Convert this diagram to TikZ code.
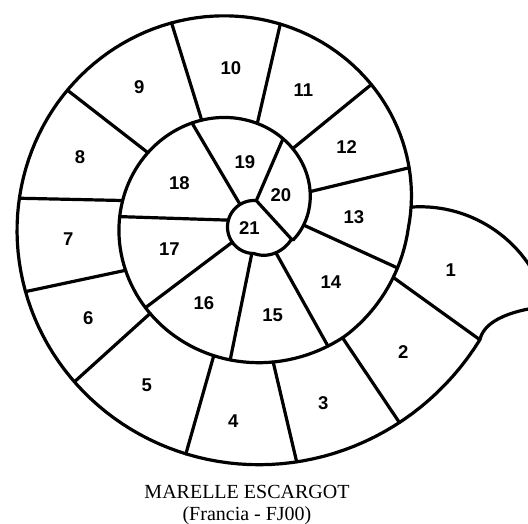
\documentclass[tikz,border=0pt]{standalone}
\usepackage{fontspec}
\setmainfont{Liberation Serif}
\setsansfont{Liberation Sans}
\usetikzlibrary{calc}
\begin{document}
\begin{tikzpicture}[x=1pt, y=1pt, line join=round, line cap=round]
	\tikzset{declare function={sr(\x)=278.5+0.304*\x+7*min(1,max(0,(-365-\x)/45)); lr(\x)=26.5+0.18*max(0,\x+90);},
		wall/.style={line width=3.2pt},
		cellnum/.style={font=\fontsize{18.5}{18.5}\sffamily\bfseries, inner sep=0pt},
		caption/.style={font=\fontsize{20}{22.5}\selectfont, align=center, inner sep=0pt}}
	\useasboundingbox (-241.5,-311) rectangle (286.5,213);
	\clip (-241.5,-311) rectangle (286.5,213);
	\path (12.5,-14) coordinate (c21)
		($(c21)+(-275:{lr(-275)})$) coordinate (top21)
		($(c21)+(-18:{lr(-18)})$) coordinate (joint21)
		(-28:{sr(-28)}) coordinate (tailend)
		(-358:{sr(-358)}) coordinate (tailtop);
	% la spirale
	\draw[wall] (310,-93) to[out=184,in=78,looseness=0.8] (tailend)
		-- plot[domain=-28:-747.6, samples=300] (\x:{sr(\x)})
		-- plot[domain=-18:-275, samples=80] ({12.5+lr(\x)*cos(\x)},{-14+lr(\x)*sin(\x)});
	\draw[wall] (tailtop) arc[start angle=94, end angle=15, radius=131];
	% cases 1 a 14
	\foreach \o/\i in {-28/-383, -53/-411, -77.5/-438, -103/-461, -134.7/-492.3, -160/-513.7, -183.8/-546,
		-215.2/-572.8, -249.8/-606.8, -281.6/-640, -315.3/-668.5, -344.9/-702.7, -379.4/-731}
		\draw[wall] (\o:{sr(\o)}) -- (\i:{sr(\i)});
	% cases 14 a 21
	\foreach \o/\a in {-417/-49.6, -454.4/-94.7, -495.4/-145, -538.3/-195, -601.2/-238.2}
		\draw[wall] (\o:{sr(\o)}) -- ($(c21)+(\a:{lr(\a)})$);
	\draw[wall] (-659.2:{sr(-659.2)}) -- (top21) -- (joint21);
	\foreach \p/\n in {(209.2,-57)/1, (161.8,-138.7)/2, (81.8,-190.3)/3, (-8.2,-207.7)/4, (-94.8,-172)/5,
		(-153.2,-105.3)/6, (-173.2,-26.3)/7, (-161.5,56.3)/8, (-102.2,125.7)/9, (-10.5,144.7)/10,
		(61.8,123)/11, (105.2,66.3)/12, (112.5,-3.7)/13, (89.5,-68.7)/14, (31.2,-102)/15,
		(-37.5,-90.3)/16, (-72.2,-36.3)/17, (-62.2,29.7)/18, (3.5,51.3)/19, (39.5,18)/20, (7.8,-14.7)/21}
		\node[cellnum] (c\n) at \p {\n};
	\node[caption] (title) at (5.5,-292) {MARELLE ESCARGOT\\(Francia - FJ00)};
\end{tikzpicture}
\end{document}
